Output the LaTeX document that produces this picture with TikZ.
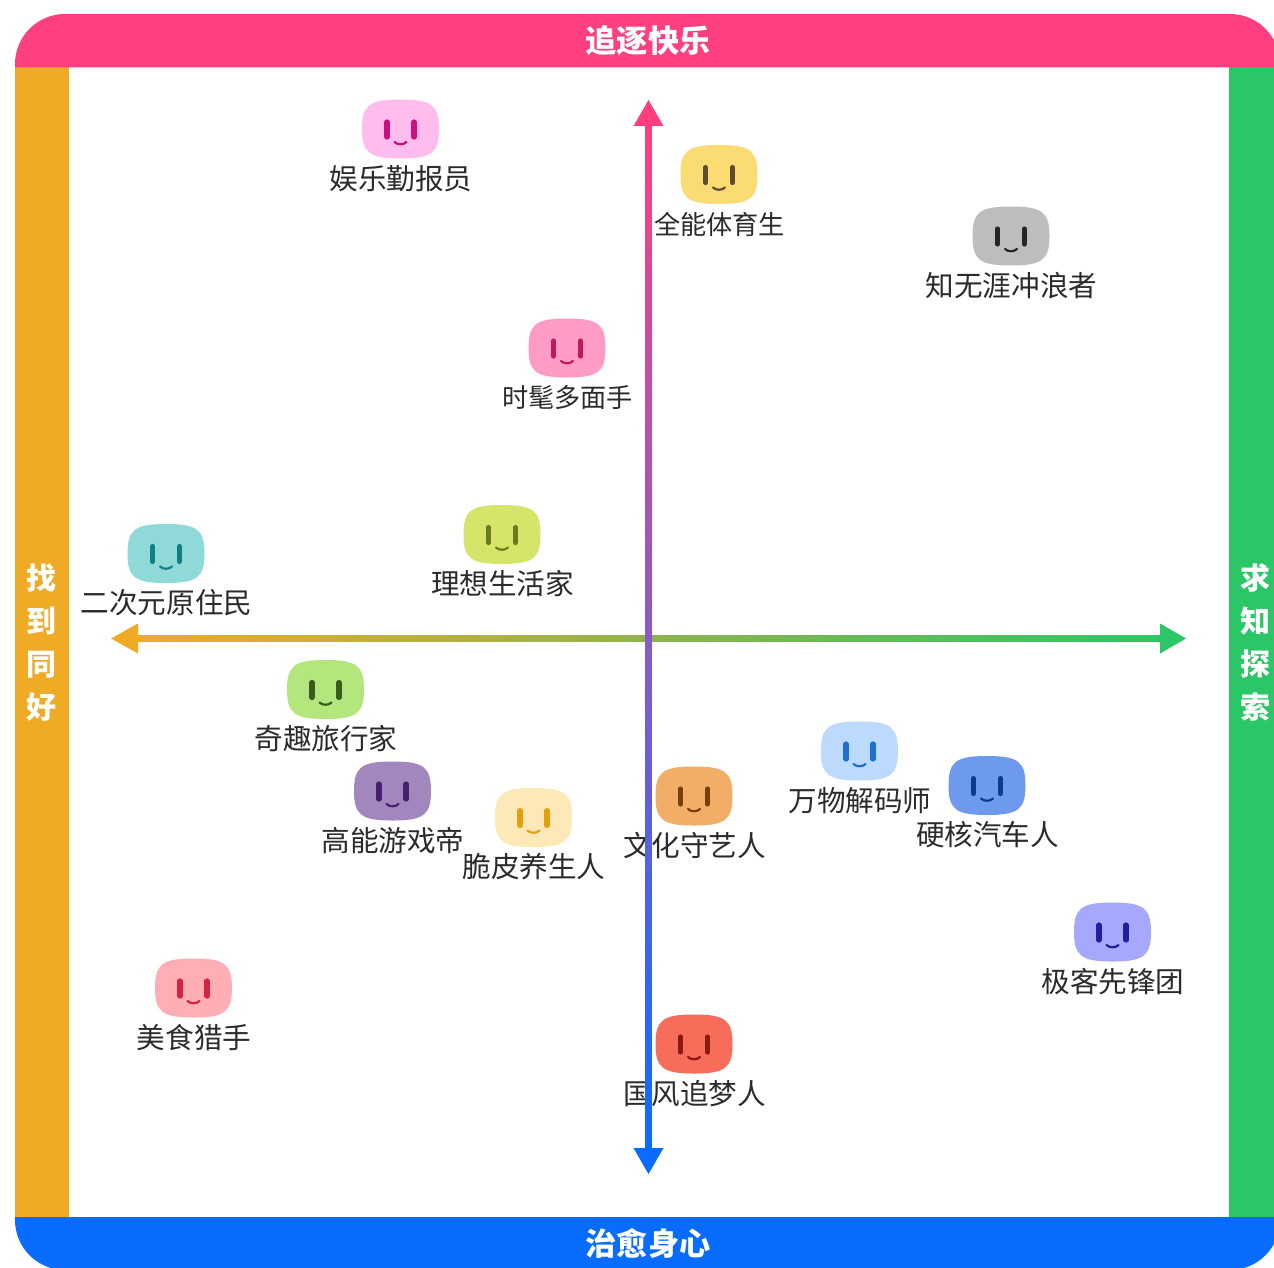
\documentclass[tikz,border=0pt]{standalone}
\usepackage{fontspec}
\setmainfont{Noto Sans CJK SC}
\usetikzlibrary{calc}
\definecolor{cPink}{HTML}{FF3F7F}
\definecolor{cOrange}{HTML}{F0AB26}
\definecolor{cGreen}{HTML}{2BC766}
\definecolor{cBlue}{HTML}{0A6CFF}
\definecolor{cMid}{HTML}{8A5BC8}
\definecolor{cMidH}{HTML}{8FB34E}
\definecolor{cText}{HTML}{2B2B2B}
\tikzset{
  x=0.5pt,y=-0.5pt,
  bandlabel/.style={text=white,font=\fontsize{15.6}{17}\selectfont\bfseries,inner sep=0pt},
  sidelabel/.style={text=white,font=\fontsize{15}{21.6}\selectfont\bfseries,inner sep=0pt,align=center},
  facelabel/.style={text=cText,font=\fontsize{#1}{16}\selectfont,inner sep=0pt},
  facelabel/.default=14.4,
  eye/.style={line width=2.6pt,line cap=round},
  smile/.style={line width=1.1pt,line cap=round},
}
% size, name, cx, cy, fill, eye colour, label
\newcommand\persona[7][14.3]{%
  \definecolor{fcFill}{HTML}{#5}\definecolor{fcEye}{HTML}{#6}%
  \begin{scope}[shift={(#3,#4)}]
    \fill[fcFill] (-38.5,0) .. controls (-38.5,-24) and (-31,-29.5) .. (0,-29.5)
      .. controls (31,-29.5) and (38.5,-24) .. (38.5,0)
      .. controls (38.5,24) and (31,29.5) .. (0,29.5)
      .. controls (-31,29.5) and (-38.5,24) .. (-38.5,0) -- cycle;
    \draw[eye,fcEye] (-13.5,-7) -- (-13.5,8);
    \draw[eye,fcEye] (13.5,-7) -- (13.5,8);
    \draw[smile,fcEye] (-6,13) .. controls (-3,16) and (3,16) .. (6,13);
    \coordinate (#2) at (0,0);
    \node[facelabel=#1] (#2label) at (0.5,49.5) {#7};
  \end{scope}}
\begin{document}
\begin{tikzpicture}
\useasboundingbox (0,0) rectangle (1274,1268);
\fill[white] (0,0) rectangle (1274,1268);
% frame
\fill[cOrange] (15,60) rectangle (68.5,1225);
\fill[cGreen] (1229,60) rectangle (1274,1225);
\fill[cPink] (15,67.5) -- (15,64) .. controls (15,36.4) and (37.4,14) .. (65,14) -- (1230,14) .. controls (1257.6,14) and (1280,36.4) .. (1280,64) -- (1280,67.5) -- cycle;
\fill[cBlue] (15,1217) -- (15,1220) .. controls (15,1247.6) and (37.4,1270) .. (65,1270) -- (1230,1270) .. controls (1257.6,1270) and (1280,1247.6) .. (1280,1220) -- (1280,1217) -- cycle;
\node[bandlabel] (top) at (648,41) {追逐快乐};
\node[bandlabel] (bottom) at (648,1244) {治愈身心};
\node[sidelabel] (left) at (41.5,642.5) {找\\到\\同\\好};
\node[sidelabel] (right) at (1255,642.5) {求\\知\\探\\索};
% personas
\persona{yule}{400.5}{129}{FFBDEE}{CC0F7E}{娱乐勤报员}
\persona[13.1]{tiyu}{719}{174.5}{FBDC72}{5F4B2E}{全能体育生}
\persona{chonglang}{1011}{236}{BDBDBD}{262626}{知无涯冲浪者}
\persona[13.1]{shimao}{567}{348}{FF9CC6}{C01860}{时髦多面手}
\persona{lixiang}{502}{534.5}{D5E569}{6A7A20}{理想生活家}
\persona{erciyuan}{166}{553.5}{8FDAD8}{127E86}{二次元原住民}
\persona{qiqu}{325.5}{689.5}{B4E67E}{3A5A1E}{奇趣旅行家}
\persona{gaoneng}{392.5}{791}{A287BE}{45206E}{高能游戏帝}
\persona{cuipi}{533.5}{817.5}{FDE9B8}{E3A10E}{脆皮养生人}
\persona{wenhua}{694}{796}{F2AE68}{7A3F08}{文化守艺人}
\persona{wanwu}{859.5}{751}{BBDAFE}{1E6FD0}{万物解码师}
\persona{yinghe}{987}{785.5}{6E9AEE}{0E3A90}{硬核汽车人}
\persona{jike}{1112.5}{932}{A6A8FB}{1F1FA0}{极客先锋团}
\persona{meishi}{193.5}{988}{FFAEB5}{D8203F}{美食猎手}
\persona{guofeng}{694}{1044}{F76D5A}{8A1A10}{国风追梦人}
% axes
\coordinate (hl) at (138,638.5);
\coordinate (hr) at (1160,638.5);
\coordinate (vt) at (648.5,126);
\coordinate (vb) at (648.5,1148);
\shade[left color=cOrange,right color=cGreen,middle color=cMidH] ($(hl)+(0,-3)$) rectangle ($(hr)+(0,3)$);
\fill[cOrange] ($(hl)+(0,-15)$) -- (111,638.5) -- ($(hl)+(0,15)$) -- cycle;
\fill[cGreen] ($(hr)+(0,-15)$) -- (1186,638.5) -- ($(hr)+(0,15)$) -- cycle;
\shade[top color=cPink,bottom color=cBlue,middle color=cMid] ($(vt)+(-3.2,0)$) rectangle ($(vb)+(3.2,0)$);
\fill[cPink] ($(vt)+(-15,0)$) -- (648.5,100) -- ($(vt)+(15,0)$) -- cycle;
\fill[cBlue] ($(vb)+(-15,0)$) -- (648.5,1174) -- ($(vb)+(15,0)$) -- cycle;
\end{tikzpicture}
\end{document}
